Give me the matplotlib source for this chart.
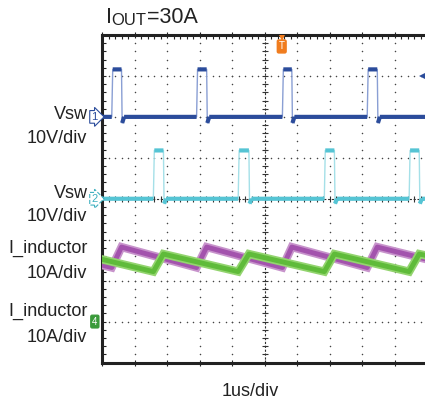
import numpy as np
import matplotlib
matplotlib.use('Agg')
import matplotlib.pyplot as plt

plt.rcParams['font.family'] = ['Liberation Sans', 'DejaVu Sans']

# scope data, in divisions (x: 0..10, y: 0..8 from bottom)
vsw1_t = [0.00, 0.30, 0.33, 0.60, 0.62, 0.68, 2.91, 2.94, 3.22, 3.24, 3.30,
          5.55, 5.58, 5.84, 5.86, 5.92, 8.16, 8.19, 8.47, 8.49, 8.55, 10.0]
vsw1_v = [6.00, 6.00, 7.16, 7.16, 5.85, 6.00, 6.00, 7.16, 7.16, 5.85, 6.00,
          6.00, 7.16, 7.16, 5.85, 6.00, 6.00, 7.16, 7.16, 5.85, 6.00, 6.00]

vsw2_t = [0.00, 1.58, 1.61, 1.89, 1.91, 1.97, 4.19, 4.22, 4.52, 4.54, 4.60,
          6.84, 6.87, 7.15, 7.17, 7.23, 9.45, 9.48, 9.76, 9.78, 9.84, 10.0]
vsw2_v = [4.00, 4.00, 5.18, 5.18, 3.88, 4.00, 4.00, 5.18, 5.18, 3.88, 4.00,
          4.00, 5.18, 5.18, 3.88, 4.00, 4.00, 5.18, 5.18, 3.88, 4.00, 4.00]

il1_t = [0.00, 0.30, 0.60, 2.91, 3.22, 5.55, 5.84, 8.16, 8.47, 10.0]
il1_v = [2.38, 2.32, 2.82, 2.32, 2.82, 2.32, 2.82, 2.32, 2.82, 2.52]

il2_t = [0.00, 1.58, 1.89, 4.19, 4.52, 6.84, 7.15, 9.45, 9.76, 10.0]
il2_v = [2.52, 2.22, 2.65, 2.22, 2.65, 2.22, 2.65, 2.22, 2.65, 2.61]

# left labels: (text, baseline px)
ch_labels = [('Vsw', 119.3), ('10V/div', 143.3),
             ('Vsw', 198.3), ('10V/div', 221.0),
             ('I_inductor', 253.3), ('10A/div', 278.3),
             ('I_inductor', 315.7), ('10A/div', 341.7)]

W, H = 425, 400
fig = plt.figure(figsize=(W / 100, H / 100), dpi=100)
ax = fig.add_axes([102 / W, 37.5 / H, 325 / W, 327.5 / H])
ax.set_xlim(0, 10)
ax.set_ylim(0, 8)

for s in ax.spines.values():
    s.set_linewidth(2.2)
    s.set_color('#222222')

ax.set_xticks(np.arange(0, 11))
ax.set_xticks(np.arange(0, 10.01, 0.2), minor=True)
ax.set_yticks(np.arange(0, 9))
ax.set_yticks(np.arange(0, 8.01, 0.2), minor=True)
ax.tick_params(which='both', labelbottom=False, labelleft=False,
               color='#222222', width=0.8)
ax.tick_params(axis='x', which='minor', top=True, bottom=False, direction='in', length=3)
ax.tick_params(axis='x', which='major', top=True, bottom=True, direction='inout', length=5)
ax.tick_params(axis='y', which='both', left=True, right=False, direction='in', length=3)

# dotted graticule
ys = np.arange(0, 8.01, 0.2)
xs = np.arange(0, 10.01, 0.2)
for k in range(1, 10):
    if k != 5:
        ax.plot([k] * len(ys), ys, 'o', ms=1.1, mew=0, color='#444444', zorder=1)
for k in range(1, 8):
    if k != 4:
        ax.plot(xs, [k] * len(xs), 'o', ms=1.1, mew=0, color='#444444', zorder=1)

# center cross with ticks
ax.plot([5, 5], [0, 8], color='#333333', lw=0.8, ls=(0, (2, 1.5)), zorder=1)
ax.plot([5] * len(ys), ys, '_', ms=4, mew=0.8, color='#333333', zorder=1)
ax.plot([0, 10], [4, 4], color='#333333', lw=0.8, ls=(0, (2, 1.5)), zorder=1)
ax.plot(xs, [4] * len(xs), '|', ms=4, mew=0.8, color='#333333', zorder=1)


def draw_pulse(t, v, dark, light, lw, z):
    ax.plot(t, v, color=light, lw=1.0, zorder=z)
    tt, vv = [], []
    for i in range(len(t) - 1):
        if abs(v[i + 1] - v[i]) < 0.3:
            tt += [t[i], t[i + 1], np.nan]
            vv += [v[i], v[i + 1], np.nan]
    ax.plot(tt, vv, color=dark, lw=lw, solid_capstyle='butt', zorder=z + 0.1)


draw_pulse(vsw1_t, vsw1_v, '#2b4c9b', '#8a9fd4', 3.0, 3)
draw_pulse(vsw2_t, vsw2_v, '#55c4d4', '#a5e0e8', 3.0, 3)

ax.plot(il1_t, il1_v, color='#c793cb', lw=6, zorder=4, solid_joinstyle='miter')
ax.plot(il1_t, il1_v, color='#a353ad', lw=3.5, zorder=4.1)
ax.plot(il2_t, il2_v, color='#93d46f', lw=6, zorder=5, solid_joinstyle='miter')
ax.plot(il2_t, il2_v, color='#5fbb3a', lw=3.5, zorder=5.1)

# channel markers
ax.text(-0.24, 6.0, '1', ha='center', va='center', fontsize=8, color='#2b4c9b',
        bbox=dict(boxstyle='rarrow,pad=0.12', fc='white', ec='#2b4c9b', lw=0.8),
        clip_on=False, zorder=6)
ax.text(-0.24, 4.0, '2', ha='center', va='center', fontsize=8, color='#3fb0c0',
        bbox=dict(boxstyle='rarrow,pad=0.12', fc='white', ec='#3fb0c0', lw=0.8, ls='--'),
        clip_on=False, zorder=6)
ax.text(-0.22, 1.0, '4', ha='center', va='center', fontsize=7, color='white',
        bbox=dict(boxstyle='round,pad=0.15', fc='#3a9a3a', ec='#3a9a3a', lw=0.8),
        clip_on=False, zorder=6)

# trigger marks
ax.plot([5.53], [7.93], 'v', ms=5, color='#f07c1e', mew=0, clip_on=False, zorder=6)
ax.text(5.53, 7.72, 'T', ha='center', va='center', fontsize=7, color='white',
        bbox=dict(boxstyle='round,pad=0.15', fc='#f07c1e', ec='#f07c1e'),
        zorder=6)
ax.plot([9.92], [7.0], '<', ms=7, color='#2b4c9b', mew=0, clip_on=False, zorder=6)

for txt, yb in ch_labels:
    fig.text(87.5 / W, 1 - yb / H, txt, ha='right', va='baseline',
             fontsize=13, color='#222222')

fig.text(106 / W, 1 - 23.3 / H, 'I', fontsize=15.5, va='baseline', color='#222222')
fig.text(111.5 / W, 1 - 25 / H, 'OUT', fontsize=12, va='baseline', color='#222222')
fig.text(147 / W, 1 - 23.3 / H, '=30A', fontsize=15.5, va='baseline', color='#222222')

fig.text(250 / W, 1 - 396 / H, '1us/div', ha='center', va='baseline',
         fontsize=13, color='#222222')

fig.savefig('out.png', dpi=100)
